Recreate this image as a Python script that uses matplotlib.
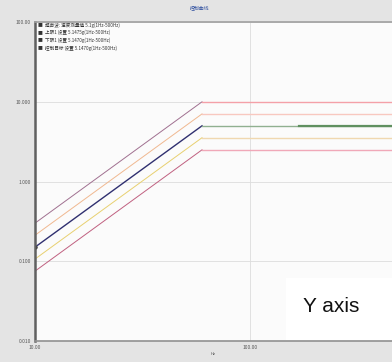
import numpy as np
import matplotlib.pyplot as plt
from matplotlib.patches import Rectangle

plt.rcParams['font.family'] = ['Noto Sans CJK SC', 'DejaVu Sans']

# data (log-log, Hz vs level)
freq = [10, 60, 460]
ref_level = [0.15, 5.0, 5.0]
band_factor = [2.0, 1.41, 1.0, 1 / 1.41, 0.5]
rise_colors = ['#a07090', '#f0b890', '#303070', '#e8d070', '#c06080']
flat_colors = ['#f4a0a8', '#f8c8c0', '#90b090', '#f0d8b0', '#f0a8b8']
meas_freq = [170, 460]
meas_level = [5.0, 5.0]
legend_labels = ['超声波: 速度测量值 5.1g(1Hz-500Hz)',
                 '上限1 设置 5.1475g(1Hz-500Hz)',
                 '下限1 设置 5.1470g(1Hz-500Hz)',
                 '控制目标 设置 5.1470g(1Hz-500Hz)']
yticks = [0.01, 0.1, 1, 10, 100]
ytick_labels = ['0.010', '0.100', '1.000', '10.000', '100.00']
xticks = [10, 100]
xtick_labels = ['10.00', '100.00']

fig = plt.figure(figsize=(3.92, 3.62), dpi=100)
fig.patch.set_facecolor('#e4e4e4')
ax = fig.add_axes([0.089, 0.058, 0.911, 0.881])
ax.set_facecolor('#fbfbfb')

ref = np.array(ref_level)
for k, f in enumerate(band_factor):
    lw = 1.0 if k == 2 else 0.7
    ax.plot(freq[:2], ref[:2] * f, color=rise_colors[k], lw=lw)
    ax.plot(freq[1:], ref[1:] * f, color=flat_colors[k], lw=1.0)
ax.plot(meas_freq, meas_level, color='#609060', lw=1.6)
ax.plot(freq[0], ref[0], 'o', color='black', ms=2)

ax.set_xscale('log')
ax.set_yscale('log')
ax.set_xlim(10, 460)
ax.set_ylim(0.01, 100)
ax.set_xticks(xticks)
ax.set_xticklabels(xtick_labels)
ax.set_yticks(yticks)
ax.set_yticklabels(ytick_labels)
ax.minorticks_off()
ax.tick_params(labelsize=3.5, length=0, pad=3, colors='#555555')
ax.grid(True, color='#dddddd', lw=0.6)
ax.set_xlabel('Hz', fontsize=3, color='#555555', labelpad=1)

for s in ['top', 'right']:
    ax.spines[s].set_visible(False)
ax.spines['left'].set_color('#606060')
ax.spines['left'].set_linewidth(1.8)
ax.spines['bottom'].set_color('#909090')
ax.spines['bottom'].set_linewidth(1.2)

# legend block in the top-left corner
for i, lab in enumerate(legend_labels):
    y = 1.0 - i * 0.024
    ax.text(0.008, y, '■', transform=ax.transAxes, fontsize=3.5,
            color='#333333', va='top')
    ax.text(0.028, y, lab, transform=ax.transAxes, fontsize=3.3,
            color='#333333', va='top')

fig.text(0.51, 0.985, '控制曲线', fontsize=3.5, color='#3050a0',
         ha='center', va='top')
fig.add_artist(plt.Line2D([0.089, 1.0], [0.94, 0.94], color='#a0a0a0', lw=1.2))

# "Y axis" overlay box, bottom right
fig.add_artist(Rectangle((286 / 392, 22 / 362), 106 / 392, 62 / 362,
                         transform=fig.transFigure, facecolor='white',
                         edgecolor='none'))
fig.text(331 / 392, 56 / 362, 'Y axis', fontsize=15, color='#111111',
         family='Liberation Sans', ha='center', va='center')

fig.savefig('out.png', dpi=100, facecolor=fig.get_facecolor())
